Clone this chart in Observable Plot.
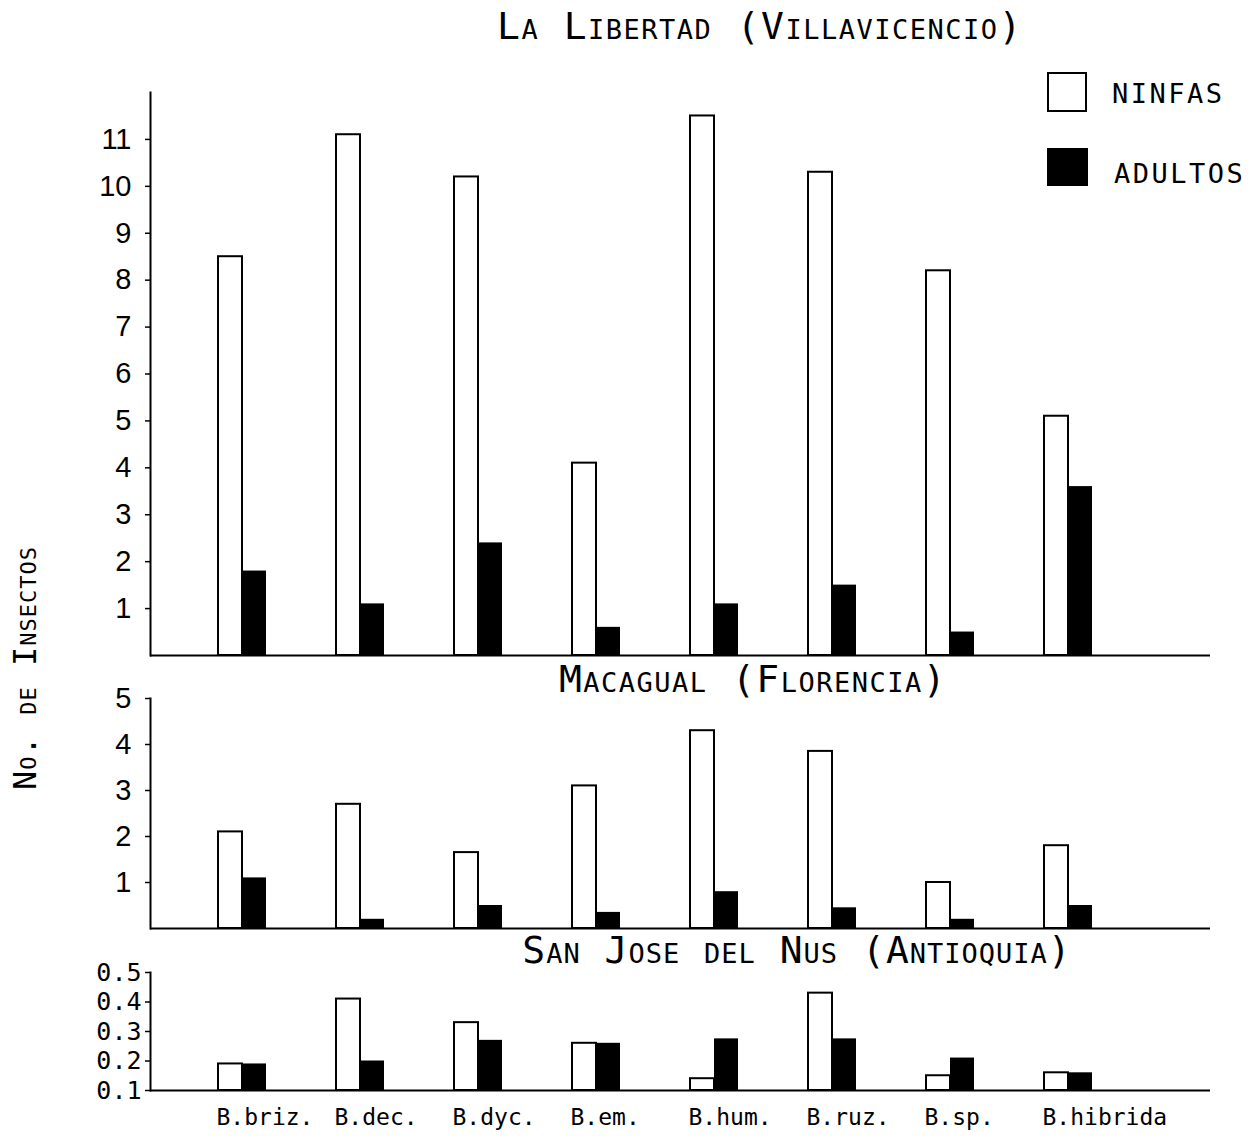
<!DOCTYPE html>
<html><head><meta charset="utf-8">
<script src="https://cdn.jsdelivr.net/npm/d3@7"></script>
<script src="https://cdn.jsdelivr.net/npm/@observablehq/plot@0.6"></script>
<style>
body{margin:0;background:#fff;}
#wrap{position:relative;width:1255px;height:1139px;overflow:hidden;background:#fff;}
.panel{position:absolute;left:0;}
.panel svg{background:transparent !important;overflow:visible;}
.ttl{position:absolute;font-family:"DejaVu Sans Mono",monospace;font-variant:small-caps;white-space:nowrap;transform:translate(-50%,-50%);color:#000;}
.leg{position:absolute;font-family:"DejaVu Sans Mono",monospace;font-size:27px;letter-spacing:2.5px;color:#000;}
.box{position:absolute;box-sizing:border-box;}
</style>
</head><body>
<div id="wrap"></div>
<script>
const species = ["B.briz.","B.dec.","B.dyc.","B.em.","B.hum.","B.ruz.","B.sp.","B.hibrida"];
const seriesNames = ["NINFAS","ADULTOS"];
const panelTitles = ["La Libertad (Villavicencio)","Macagual (Florencia)","San Jose del Nus (Antioquia)"];
const yLabel = "No. de Insectos";

const libertadNinfas  = [8.5, 11.1, 10.2, 4.1, 11.5, 10.3, 8.2, 5.1];
const libertadAdultos = [1.8, 1.1, 2.4, 0.6, 1.1, 1.5, 0.5, 3.6];
const libertadTicks = [1,2,3,4,5,6,7,8,9,10,11];

const macagualNinfas  = [2.1, 2.7, 1.65, 3.1, 4.3, 3.85, 1.0, 1.8];
const macagualAdultos = [1.1, 0.2, 0.5, 0.35, 0.8, 0.45, 0.2, 0.5];
const macagualTicks = [1,2,3,4,5];

const nusNinfas  = [0.19, 0.41, 0.33, 0.26, 0.14, 0.43, 0.15, 0.16];
const nusAdultos = [0.19, 0.20, 0.27, 0.26, 0.275, 0.275, 0.21, 0.16];
const nusTicks = [0.1,0.2,0.3,0.4,0.5];

const wrap = document.getElementById("wrap");

function panel({ninfas, adultos, domain, ticks, top, height, mt, mb, tickFont, tickSizeFont, tickPadding, tickFormat, showX}) {
  const rows = species.map((s,i)=>({species:s, ninfas:ninfas[i], adultos:adultos[i]}));
  const marks = [
    Plot.barY(rows, {x:"species", y:"ninfas", dx:-12, fill:"white", stroke:"black", strokeWidth:2}),
    Plot.barY(rows, {x:"species", y:"adultos", dx:12, fill:"black"}),
    Plot.ruleY([domain[0]], {stroke:"black", strokeWidth:2}),
    Plot.frame({anchor:"left", stroke:"black", strokeWidth:2}),
    Plot.axisY({ticks, tickSize:5, tickPadding, fontSize:tickSizeFont, fontFamily:tickFont, tickFormat, label:null, stroke:"black", strokeWidth:1.5})
  ];
  if (showX) marks.push(Plot.axisX({tickSize:0, tickPadding:18, textAnchor:"start", dx:-26, fontSize:23, fontFamily:"DejaVu Sans Mono", label:null}));
  const chart = Plot.plot({
    width:1255, height, marginLeft:150, marginRight:45, marginTop:mt, marginBottom:mb,
    style:{background:"transparent", color:"black"},
    x:{domain:species, range:[150,1160], paddingInner:0.797, paddingOuter:0.678, axis: showX ? undefined : null, label:null},
    y:{domain, clamp:true, label:null},
    marks
  });
  const d = document.createElement("div");
  d.className = "panel";
  d.style.top = top + "px";
  d.appendChild(chart);
  wrap.appendChild(d);
}

panel({ninfas:libertadNinfas, adultos:libertadAdultos, domain:[0,12], ticks:libertadTicks, top:70, height:600, mt:22, mb:15,
  tickFont:"Liberation Sans", tickSizeFont:29, tickPadding:14, tickFormat:d=>String(d)});
panel({ninfas:macagualNinfas, adultos:macagualAdultos, domain:[0,5], ticks:macagualTicks, top:670, height:270, mt:28, mb:12,
  tickFont:"Liberation Sans", tickSizeFont:29, tickPadding:14, tickFormat:d=>String(d)});
panel({ninfas:nusNinfas, adultos:nusAdultos, domain:[0.1,0.5], ticks:nusTicks, top:940, height:199, mt:32, mb:49,
  tickFont:"DejaVu Sans Mono", tickSizeFont:25, tickPadding:4, tickFormat:d3.format(".1f"), showX:true});

function addTitle(text, x, y, size, ls) {
  const t = document.createElement("div");
  t.className = "ttl";
  t.textContent = text;
  t.style.left = x + "px"; t.style.top = y + "px";
  t.style.fontSize = size + "px"; t.style.letterSpacing = ls + "px";
  wrap.appendChild(t);
}
addTitle(panelTitles[0], 760, 26, 38, 1.5);
addTitle(panelTitles[1], 753, 679, 38, 1.5);
addTitle(panelTitles[2], 797, 950, 38, 1);

// y label
const yl = document.createElement("div");
yl.className = "ttl";
yl.textContent = yLabel;
yl.style.left = "25px"; yl.style.top = "668px"; yl.style.fontSize = "32px"; yl.style.letterSpacing = "1px";
yl.style.transform = "translate(-50%,-50%) rotate(-90deg)";
wrap.appendChild(yl);

// legend
const b1 = document.createElement("div"); b1.className="box";
Object.assign(b1.style,{left:"1047px",top:"72px",width:"40px",height:"40px",border:"2px solid black",background:"white"});
const b2 = document.createElement("div"); b2.className="box";
Object.assign(b2.style,{left:"1047px",top:"148px",width:"41px",height:"38px",background:"black"});
const l1 = document.createElement("div"); l1.className="leg"; l1.textContent=seriesNames[0];
Object.assign(l1.style,{left:"1112px",top:"78px"});
const l2 = document.createElement("div"); l2.className="leg"; l2.textContent=seriesNames[1];
Object.assign(l2.style,{left:"1114px",top:"158px"});
[b1,b2,l1,l2].forEach(e=>wrap.appendChild(e));
</script>
</body></html>
